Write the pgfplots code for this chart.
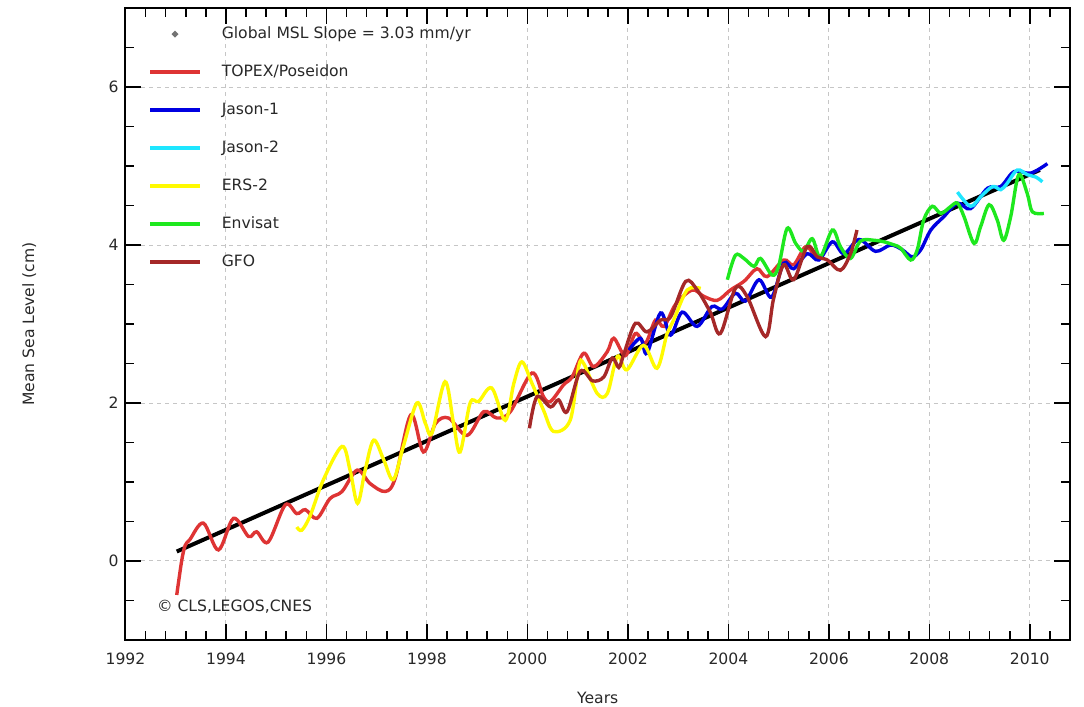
\documentclass[border=0pt]{standalone}
\usepackage{fontspec}
\setmainfont{DejaVu Sans}
\usepackage{pgfplots}
\pgfplotsset{compat=1.18}
\definecolor{topex}{RGB}{222,52,52}
\definecolor{jasonone}{RGB}{0,0,225}
\definecolor{jasontwo}{RGB}{30,230,255}
\definecolor{ers}{RGB}{255,250,0}
\definecolor{envisat}{RGB}{30,232,30}
\definecolor{gfo}{RGB}{165,40,40}
\definecolor{txt}{RGB}{40,40,40}
\begin{document}
\begin{tikzpicture}
\useasboundingbox (0,0) rectangle (542pt,353.5pt);
\begin{axis}[
  at={(62.75pt,33.5pt)}, anchor=south west,
  scale only axis, width=472.25pt, height=316pt,
  xmin=1992, xmax=2010.8, ymin=-1, ymax=7,
  xtick={1992,1994,1996,1998,2000,2002,2004,2006,2008,2010},
  ytick={0,2,4,6},
  minor xtick={1992.4,1992.8,1993.2,1993.6,1994.4,1994.8,1995.2,1995.6,1996.4,1996.8,1997.2,1997.6,1998.4,1998.8,1999.2,1999.6,2000.4,2000.8,2001.2,2001.6,2002.4,2002.8,2003.2,2003.6,2004.4,2004.8,2005.2,2005.6,2006.4,2006.8,2007.2,2007.6,2008.4,2008.8,2009.2,2009.6,2010.4},
  minor ytick={-0.5,0.5,1,1.5,2.5,3,3.5,4.5,5,5.5,6.5},
  tick align=inside, tick pos=both,
  major tick length=8pt, minor tick length=4.5pt,
  every tick/.style={black, line width=0.8pt},
  axis line style={black, line width=1pt},
  grid=major,
  major grid style={gray!45, line width=0.5pt, dash pattern=on 2pt off 2pt},
  /pgf/number format/assume math mode=true,
  /pgf/number format/1000 sep={},
  tick label style={font=\fontsize{7.8}{9}\selectfont, text=txt},
  xticklabel style={yshift=-3pt},
  xlabel={Years},
  ylabel={Mean Sea Level (cm)},
  label style={font=\fontsize{7.8}{9}\selectfont, text=txt},
  xlabel style={at={(axis description cs:0.5,0)}, anchor=center, yshift=-29pt},
  ylabel style={at={(axis description cs:-0.102,0.5)}, anchor=center, rotate=0},
  legend image code/.code={\draw[#1] (0pt,0pt) -- (25pt,0pt);},
  legend cell align=left,
  legend style={at={(axis description cs:0.0238,0.972)}, anchor=north west,
    draw=none, fill=none, inner sep=0pt, row sep=11pt, column sep=10pt,
    font=\fontsize{7.8}{9}\selectfont, text=txt,
    nodes={inner sep=0pt, text height=6pt, text depth=2pt}},
  every axis plot/.append style={line width=1.7pt, smooth, tension=0.55},
]
% Global MSL trend
\addplot[black, line width=2pt, legend image code/.code={\fill[black!55] (12.5pt,0pt) circle (0.35pt);}] coordinates {(1993.02,0.12) (2010.2,4.95)};
\addlegendentry{Global MSL Slope = 3.03 mm/yr}
% TOPEX/Poseidon
\addplot[topex] coordinates {
(1993.02,-0.43) (1993.12,0.01) (1993.19,0.20) (1993.28,0.27) (1993.55,0.48) (1993.85,0.14)
(1994.15,0.54) (1994.45,0.31) (1994.61,0.37) (1994.84,0.24) (1995.18,0.71) (1995.41,0.60)
(1995.58,0.65) (1995.81,0.54) (1996.07,0.79) (1996.31,0.88) (1996.61,1.15) (1996.87,0.98)
(1997.17,0.88) (1997.37,1.05) (1997.68,1.85) (1997.93,1.38) (1998.17,1.74) (1998.43,1.81)
(1998.80,1.59) (1999.13,1.89) (1999.39,1.81) (1999.66,1.89) (2000.09,2.38) (2000.32,2.08)
(2000.46,2.02) (2000.72,2.23) (2000.89,2.33) (2001.12,2.63) (2001.32,2.46) (2001.59,2.65)
(2001.72,2.82) (2001.95,2.60) (2002.15,2.88) (2002.35,2.76) (2002.55,3.05) (2002.72,2.97)
(2002.95,3.25) (2003.28,3.43) (2003.51,3.35) (2003.78,3.30) (2004.04,3.43) (2004.31,3.54)
(2004.57,3.70) (2004.77,3.60) (2005.10,3.81) (2005.30,3.75) (2005.54,3.98) (2005.72,3.85)
};
\addlegendentry{TOPEX/Poseidon}
% Jason-1
\addplot[jasonone] coordinates {
(2002.02,2.67) (2002.25,2.82) (2002.38,2.63) (2002.65,3.14) (2002.85,2.86) (2003.08,3.15)
(2003.38,2.97) (2003.67,3.22) (2003.88,3.19) (2004.14,3.39) (2004.34,3.29) (2004.61,3.56)
(2004.86,3.34) (2005.10,3.77) (2005.30,3.70) (2005.57,3.89) (2005.80,3.81) (2006.07,4.04)
(2006.30,3.89) (2006.60,4.07) (2006.93,3.92) (2007.23,4.00) (2007.46,3.94) (2007.66,3.85)
(2007.83,3.94) (2008.03,4.19) (2008.29,4.36) (2008.56,4.53) (2008.82,4.46) (2009.16,4.72)
(2009.42,4.74) (2009.69,4.93) (2010.02,4.91) (2010.35,5.03)
};
\addlegendentry{Jason-1}
% Jason-2
\addplot[jasontwo] coordinates {
(2008.56,4.67) (2008.82,4.49) (2009.02,4.61) (2009.26,4.74) (2009.42,4.70) (2009.55,4.78)
(2009.75,4.95) (2009.95,4.89) (2010.12,4.86) (2010.25,4.80)
};
\addlegendentry{Jason-2}
% ERS-2
\addplot[ers] coordinates {
(1995.41,0.43) (1995.51,0.39) (1995.68,0.58) (1995.94,1.03) (1996.31,1.45) (1996.47,1.15)
(1996.62,0.73) (1996.77,1.15) (1996.94,1.53) (1997.14,1.28) (1997.33,1.03) (1997.53,1.45)
(1997.80,2.00) (1997.97,1.74) (1998.10,1.62) (1998.36,2.27) (1998.53,1.74) (1998.66,1.38)
(1998.86,2.00) (1999.03,2.02) (1999.29,2.19) (1999.56,1.78) (1999.73,2.25) (1999.89,2.52)
(2000.09,2.25) (2000.32,1.91) (2000.52,1.64) (2000.85,1.78) (2001.02,2.46) (2001.12,2.50)
(2001.39,2.12) (2001.59,2.12) (2001.79,2.59) (2001.98,2.42) (2002.31,2.73) (2002.58,2.44)
(2002.78,2.88) (2002.91,3.05) (2003.18,3.43) (2003.45,3.45)
};
\addlegendentry{ERS-2}
% Envisat
\addplot[envisat] coordinates {
(2003.98,3.56) (2004.14,3.87) (2004.31,3.83) (2004.51,3.73) (2004.64,3.83) (2004.87,3.62)
(2005.00,3.73) (2005.17,4.21) (2005.34,4.02) (2005.50,3.92) (2005.67,4.08) (2005.83,3.85)
(2006.07,4.19) (2006.23,3.98) (2006.43,3.83) (2006.63,4.05) (2006.90,4.06) (2007.10,4.04)
(2007.30,4.00) (2007.43,3.96) (2007.63,3.81) (2007.76,3.94) (2007.89,4.32) (2008.06,4.49)
(2008.23,4.40) (2008.43,4.49) (2008.56,4.53) (2008.69,4.36) (2008.89,4.02) (2009.02,4.23)
(2009.19,4.51) (2009.35,4.32) (2009.48,4.06) (2009.62,4.36) (2009.78,4.89) (2009.95,4.65)
(2010.05,4.42) (2010.28,4.40)
};
\addlegendentry{Envisat}
% GFO
\addplot[gfo] coordinates {
(2000.04,1.68) (2000.19,2.08) (2000.46,1.95) (2000.62,2.04) (2000.79,1.89) (2001.05,2.40)
(2001.30,2.28) (2001.52,2.33) (2001.69,2.57) (2001.82,2.45) (2001.92,2.62) (2002.15,3.01)
(2002.38,2.90) (2002.65,3.05) (2002.85,3.09) (2003.15,3.54) (2003.38,3.43) (2003.64,3.15)
(2003.84,2.88) (2004.14,3.45) (2004.37,3.35) (2004.74,2.84) (2004.90,3.32) (2005.10,3.75)
(2005.30,3.56) (2005.57,3.98) (2005.77,3.85) (2005.97,3.81) (2006.23,3.68) (2006.43,3.89)
(2006.56,4.19)
};
\addlegendentry{GFO}
\node[anchor=west, font=\fontsize{7.8}{9}\selectfont, text=txt, inner sep=0pt] at (axis cs:1992.62,-0.58) {© CLS,LEGOS,CNES};
\end{axis}
\end{tikzpicture}
\end{document}
